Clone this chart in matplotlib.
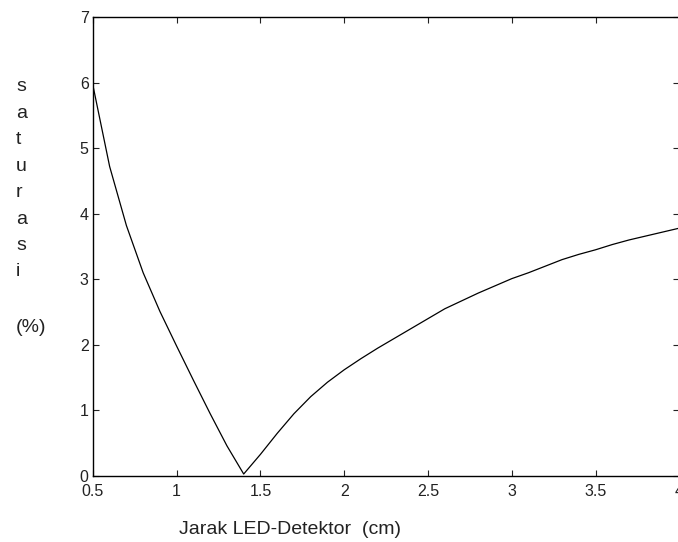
import matplotlib
matplotlib.use("Agg")
import matplotlib.pyplot as plt

# jarak LED-detektor (cm) vs saturasi (%)
jarak = [0.5, 0.6, 0.7, 0.8, 0.9, 1.0, 1.1, 1.2, 1.3, 1.4,
         1.5, 1.6, 1.7, 1.8, 1.9, 2.0, 2.1, 2.2, 2.3, 2.4,
         2.5, 2.6, 2.7, 2.8, 2.9, 3.0, 3.1, 3.2, 3.3, 3.4,
         3.5, 3.6, 3.7, 3.8, 3.9, 4.0]
saturasi = [5.96, 4.72, 3.82, 3.10, 2.51, 1.98, 1.46, 0.95, 0.46, 0.03,
            0.33, 0.65, 0.95, 1.21, 1.43, 1.62, 1.79, 1.95, 2.10, 2.25,
            2.40, 2.55, 2.67, 2.79, 2.90, 3.01, 3.10, 3.20, 3.30, 3.38,
            3.45, 3.53, 3.60, 3.66, 3.72, 3.78]

xticks = [0.5, 1, 1.5, 2, 2.5, 3, 3.5, 4]
xticklabels = ['0.5', '1', '1.5', '2', '2.5', '3', '3.5', '4']
yticks = [0, 1, 2, 3, 4, 5, 6, 7]

plt.rcParams['font.family'] = ['Liberation Sans', 'DejaVu Sans']

fig = plt.figure(figsize=(6.78, 5.42), dpi=100)
ax = fig.add_axes([0.137, 0.1218, 0.865, 0.8468])
ax.plot(jarak, saturasi, color='black', linewidth=0.9)

ax.set_xlim(0.5, 4)
ax.set_ylim(0, 7)
ax.set_xticks(xticks)
ax.set_xticklabels(xticklabels)
ax.set_yticks(yticks)
ax.tick_params(direction='in', length=4.5, width=0.8, top=True, right=True,
               labelsize=11.5, colors='#222222')
ax.tick_params(axis='x', pad=6)
ax.tick_params(axis='y', pad=3)
for sp in ax.spines.values():
    sp.set_linewidth(1.0)

# x label (not centred on the axes in the original)
fig.text(290 / 678, 1 - 529 / 542, 'Jarak LED-Detektor  (cm)', ha='center',
         va='center', fontsize=14, color='#222222')

# stacked y label
letters = ['s', 'a', 't', 'u', 'r', 'a', 's', 'i']
for i, ch in enumerate(letters):
    fig.text(16 / 678, 1 - (87 + 26.4 * i) / 542, ch, ha='left', va='center',
             fontsize=14, color='#222222')
fig.text(16 / 678, 1 - 327 / 542, '(%)', ha='left', va='center',
         fontsize=14, color='#222222')

fig.savefig('out.png', dpi=100)
